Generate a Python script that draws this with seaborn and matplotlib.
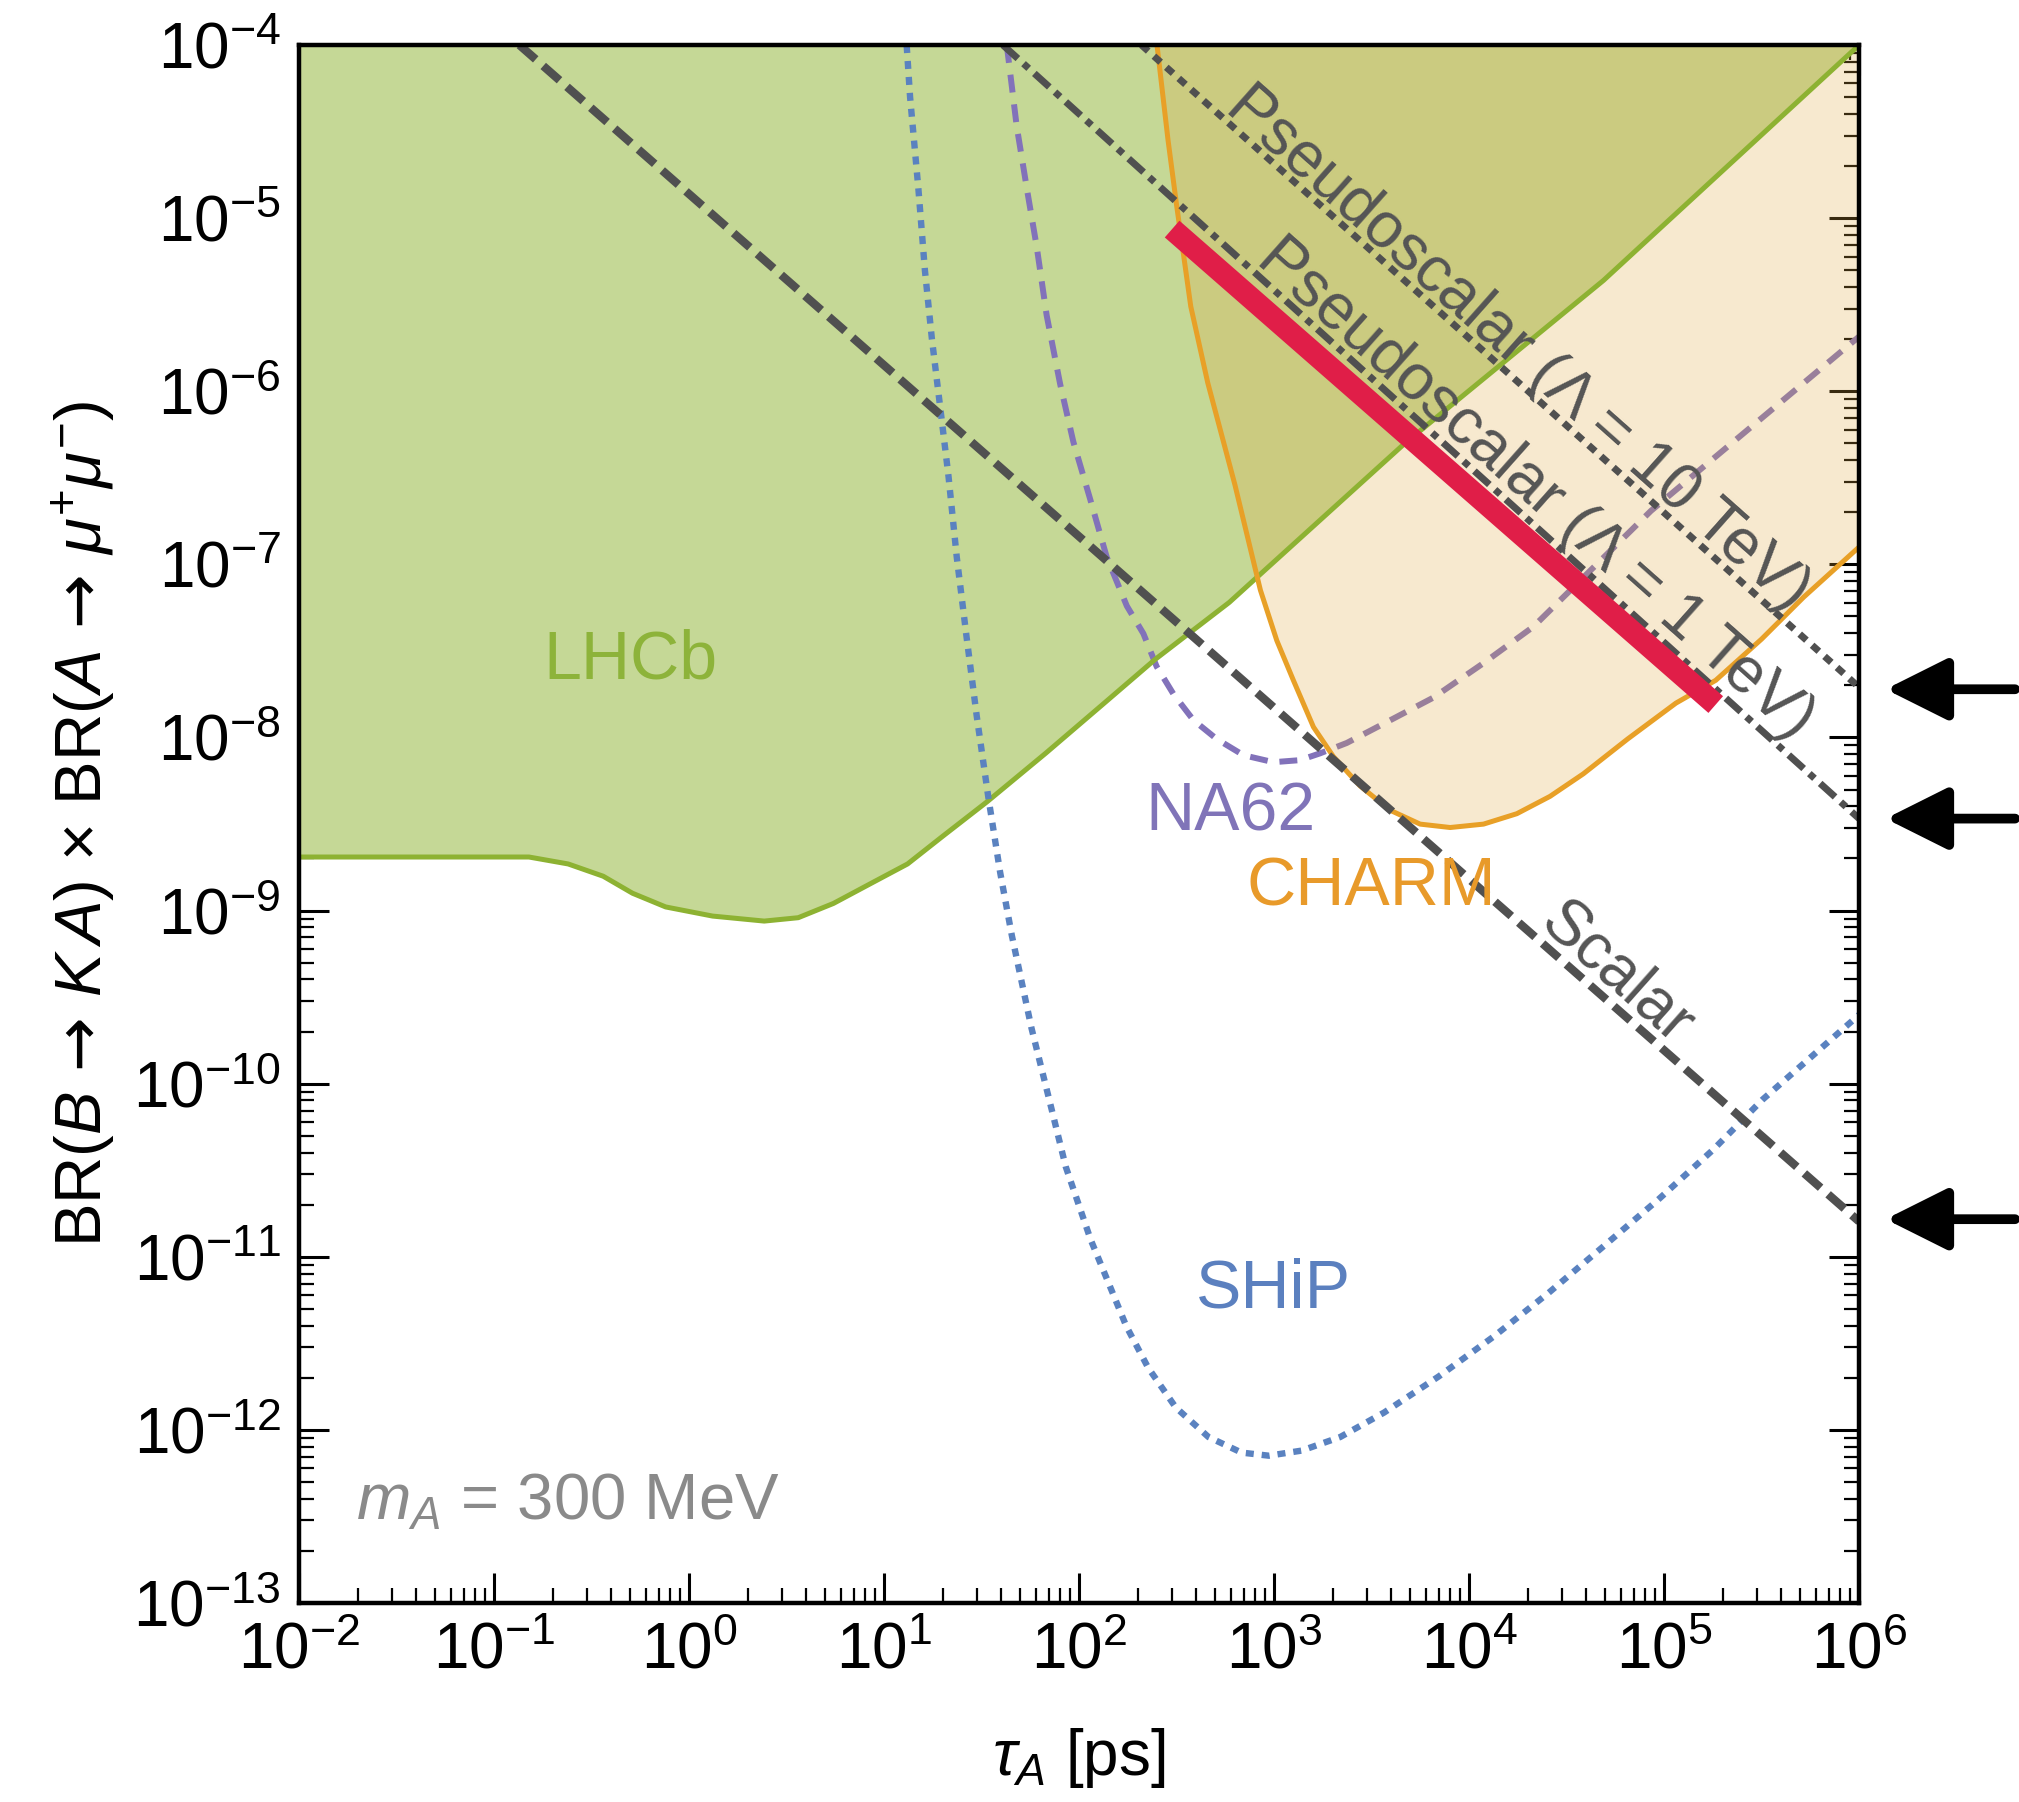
import numpy as np
import matplotlib
matplotlib.use("Agg")
import matplotlib.pyplot as plt
import seaborn as sns
from matplotlib.ticker import LogLocator, NullFormatter

sns.set_style("ticks")
plt.rcParams['font.family'] = ['Liberation Sans', 'DejaVu Sans']
plt.rcParams['mathtext.fontset'] = 'custom'
plt.rcParams['mathtext.rm'] = 'Liberation Sans'
plt.rcParams['mathtext.it'] = 'Liberation Sans:italic'
plt.rcParams['mathtext.bf'] = 'Liberation Sans:bold'
plt.rcParams['mathtext.sf'] = 'DejaVu Sans'
plt.rcParams['mathtext.fallback'] = 'stixsans'
plt.rcParams['mathtext.default'] = 'it'
plt.rcParams['axes.edgecolor'] = 'black'
plt.rcParams['xtick.color'] = 'black'
plt.rcParams['ytick.color'] = 'black'
plt.rcParams['axes.labelcolor'] = 'black'
plt.rcParams['text.color'] = 'black'

# axis ranges
x_lim = (1e-2, 1e6)
y_lim = (1e-13, 1e-4)

# LHCb excluded region (lower boundary)
lhcb_tau = [0.01, 0.151, 0.240, 0.363, 0.513, 0.759, 1.32, 2.43, 3.63, 5.50, 8.71,
            13.2, 20.0, 33.9, 67.6, 132, 245, 589, 4680, 48900, 1e6]
lhcb_br = [2.04e-9, 2.04e-9, 1.86e-9, 1.58e-9, 1.26e-9, 1.05e-9, 9.3e-10, 8.7e-10,
           9.1e-10, 1.10e-9, 1.45e-9, 1.86e-9, 2.69e-9, 4.27e-9, 8.13e-9, 1.55e-8,
           2.82e-8, 6.03e-8, 5.0e-7, 4.37e-6, 1e-4]

# CHARM excluded region (U-shaped boundary)
charm_tau = [251, 286, 316, 374, 457, 630, 851, 1033, 1256, 1592, 2014, 2761, 3936,
             5610, 8000, 11860, 17580, 26000, 38550, 65000, 1.15e5, 1.84e5, 3.16e5,
             5.19e5, 1e6]
charm_br = [1e-4, 2.82e-5, 1.20e-5, 3.09e-6, 1.12e-6, 2.88e-7, 7.1e-8, 3.63e-8, 2.14e-8,
            1.15e-8, 7.76e-9, 5.25e-9, 3.80e-9, 3.16e-9, 3.02e-9, 3.16e-9, 3.63e-9,
            4.57e-9, 6.17e-9, 9.8e-9, 1.58e-8, 2.14e-8, 3.7e-8, 6.46e-8, 1.26e-7]

# NA62 projection
na62_tau = [42.6, 47.9, 54.0, 60.7, 68.2, 80.0, 93.5, 113.8, 138.7, 175.8, 213.8, 250,
            305, 386, 508, 697, 993, 1358, 1722, 2360, 3640, 6560, 11860, 21380,
            85700, 1e6]
na62_br = [1e-4, 3.39e-5, 1.48e-5, 6.8e-6, 2.75e-6, 1.10e-6, 5.1e-7, 2.40e-7, 1.10e-7,
           5.75e-8, 3.98e-8, 2.57e-8, 1.78e-8, 1.26e-8, 9.8e-9, 7.9e-9, 7.2e-9, 7.4e-9,
           8.1e-9, 9.3e-9, 1.20e-8, 1.70e-8, 2.69e-8, 4.37e-8, 2.04e-7, 2.07e-6]

# SHiP projection
ship_tau = [13.06, 13.6, 15.0, 16.2, 17.6, 19.4, 21.4, 23.6, 26.5, 29.9, 34.3, 39.4,
            45.2, 57.0, 70.5, 85.5, 114.6, 139.3, 174.6, 226, 313, 461, 681, 940,
            1387, 2183, 3664, 7000, 13400, 25600, 48900, 93300, 1.79e5, 3.2e5, 1e6]
ship_br = [1e-4, 5.0e-5, 1.48e-5, 5.0e-6, 2.0e-6, 8.1e-7, 3.24e-7, 1.10e-7, 3.8e-8,
           1.32e-8, 4.47e-9, 1.66e-9, 7.2e-10, 2.1e-10, 8.0e-11, 3.31e-11, 1.26e-11,
           7.4e-12, 3.98e-12, 2.29e-12, 1.35e-12, 9.1e-13, 7.4e-13, 7.1e-13, 7.6e-13,
           9.1e-13, 1.26e-12, 2.04e-12, 3.47e-12, 6.2e-12, 1.15e-11, 2.14e-11,
           4.17e-11, 8.1e-11, 2.5e-10]

# model predictions
scalar_tau = [0.135, 1e6]
scalar_br = [1e-4, 1.6e-11]
ps1_tau = [40.7, 1e6]
ps1_br = [1e-4, 3.4e-9]
ps10_tau = [209, 1e6]
ps10_br = [1e-4, 1.95e-8]

# highlighted band
red_tau = [300, 1.84e5]
red_br = [8.65e-6, 1.55e-8]

# arrows on the right edge
arrow_br = [1.9e-8, 3.4e-9, 1.65e-11]

fig = plt.figure(figsize=(20.19, 18.02), dpi=100)
ax = fig.add_axes([0.1481, 0.1104, 0.7727, 0.8646])
ax.set_xscale('log')
ax.set_yscale('log')
ax.set_xlim(*x_lim)
ax.set_ylim(*y_lim)

green = '#8db232'
orange = '#e8a027'
purple = '#8272ba'
blue = '#5a82c0'
gray = '#505050'

ax.fill_between(lhcb_tau, lhcb_br, y_lim[1], color='#c5d896', lw=0, zorder=1)
sns.lineplot(x=na62_tau, y=na62_br, ax=ax, color=purple, lw=4.3,
             linestyle=(0, (3.0, 2.0)), estimator=None, sort=False, zorder=2)
ax.fill_between(charm_tau, charm_br, y_lim[1], color='#e0a840', alpha=0.25, lw=0, zorder=3)
sns.lineplot(x=lhcb_tau, y=lhcb_br, ax=ax, color=green, lw=3.6,
             estimator=None, sort=False, zorder=4)
sns.lineplot(x=charm_tau, y=charm_br, ax=ax, color=orange, lw=3.6,
             estimator=None, sort=False, zorder=4)
sns.lineplot(x=ship_tau, y=ship_br, ax=ax, color=blue, lw=4.6,
             linestyle=(0, (1.25, 1.25)), estimator=None, sort=False, zorder=5)
sns.lineplot(x=scalar_tau, y=scalar_br, ax=ax, color=gray, lw=6,
             linestyle=(0, (2.6, 1.2)), estimator=None, sort=False, zorder=5)
sns.lineplot(x=ps1_tau, y=ps1_br, ax=ax, color=gray, lw=5,
             linestyle=(0, (2.9, 1.1, 1.0, 1.1)), estimator=None, sort=False, zorder=5)
sns.lineplot(x=ps10_tau, y=ps10_br, ax=ax, color=gray, lw=5,
             linestyle=(0, (1.3, 1.1)), estimator=None, sort=False, zorder=5)
sns.lineplot(x=red_tau, y=red_br, ax=ax, color='#e01e48', lw=16,
             solid_capstyle='butt', estimator=None, sort=False, zorder=6)

# labels inside the plot
ax.text(0.501, 2.20e-8, 'LHCb', color='#8db33a', fontsize=49, ha='center', va='baseline', zorder=7)
ax.text(594, 2.92e-9, 'NA62', color='#8074b8', fontsize=49, ha='center', va='baseline', zorder=7)
ax.text(3141, 1.07e-9, 'CHARM', color='#e89a2a', fontsize=49, ha='center', va='baseline', zorder=7)
ax.text(989, 5.13e-12, 'SHiP', color='#5b80bf', fontsize=49, ha='center', va='baseline', zorder=7)
ax.text(0.0197, 3.02e-13, r'$m_A$ = 300 MeV', color='#8a8a8a', fontsize=47,
        ha='left', va='baseline', zorder=7)
for tx, ty, s in [(5.0e4, 3.66e-10, 'Scalar'),
                  (15600, 1.48e-6, 'Pseudoscalar (Λ = 10 TeV)'),
                  (19190, 2.29e-7, 'Pseudoscalar (Λ = 1 TeV)')]:
    ax.text(tx, ty, s, color='#555555', fontsize=46, rotation=-41.6,
            rotation_mode='anchor', ha='center', va='baseline', zorder=7)

for yv in arrow_br:
    ax.annotate('', xy=(1.017, yv), xycoords=('axes fraction', 'data'),
                xytext=(1.10, yv), textcoords=('axes fraction', 'data'),
                arrowprops=dict(arrowstyle='-|>,head_length=38,head_width=19',
                                mutation_scale=1, lw=7, color='black',
                                shrinkA=0, shrinkB=0),
                annotation_clip=False)

# ticks and frame
ax.xaxis.set_major_locator(LogLocator(base=10, numticks=20))
ax.yaxis.set_major_locator(LogLocator(base=10, numticks=20))
ax.xaxis.set_minor_locator(LogLocator(base=10, subs=np.arange(2, 10), numticks=200))
ax.yaxis.set_minor_locator(LogLocator(base=10, subs=np.arange(2, 10), numticks=200))
ax.xaxis.set_minor_formatter(NullFormatter())
ax.yaxis.set_minor_formatter(NullFormatter())
ax.tick_params(which='both', direction='in', top=True, right=True, labelsize=46,
               colors='black')
ax.tick_params(which='major', length=21.6, width=2.2, pad=13)
ax.tick_params(which='minor', length=10.8, width=1.6)
for sp in ax.spines.values():
    sp.set_linewidth(3.2)
    sp.set_color('black')
    sp.set_zorder(8)

ax.set_xlabel(r'$\tau_A$ [ps]', fontsize=46, labelpad=32)
ax.set_ylabel(r'BR$(B\,\mathsf{\rightarrow}\,K\,A)$ × BR$(A\,\mathsf{\rightarrow}\,\mu^{+}\mu^{-})$',
              fontsize=47, labelpad=11)

fig.savefig('out.png', dpi=100)
